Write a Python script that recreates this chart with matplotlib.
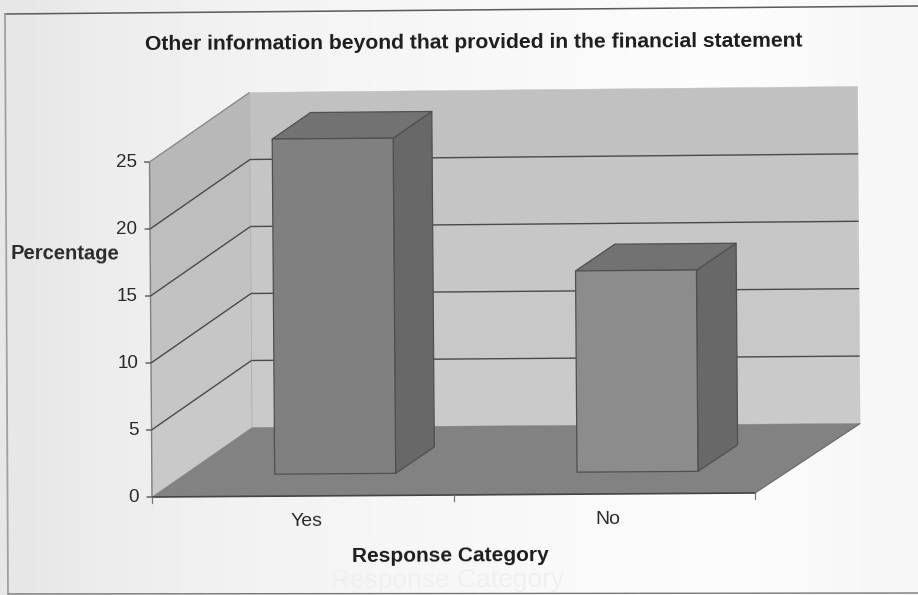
import numpy as np
import matplotlib
matplotlib.use('Agg')
import matplotlib.pyplot as plt

categories = ['Yes', 'No']
values = [25, 15]
y_ticks = [0, 5, 10, 15, 20, 25]

title = 'Other information beyond that provided in the financial statement'
x_title = 'Response Category'
y_title = 'Percentage'

plt.rcParams['font.family'] = ['Liberation Sans', 'DejaVu Sans']

W, H = 918, 595
fig = plt.figure(figsize=(W / 100, H / 100), dpi=100, facecolor='#e9e9e9')
ax = fig.add_axes([0, 0, 1, 1])

# масштаб: одна категория = 301.5 px, одна единица значения = 13.4 px
x_px, y_px = 301.5, 13.4
x_org, y_org = 152, 497
ax.set_xlim(-x_org / x_px, (W - x_org) / x_px)
ax.set_ylim(-(H - y_org) / y_px, y_org / y_px)
ax.axis('off')

# косая проекция глубины
depth_x = 100 / x_px
depth_y = 69.5 / y_px
n_cat = len(categories)
y_max = max(y_ticks)
tilt = 0.3  # наклон подписей, градусы


def project(x, v, d):
    # небольшой наклон всей диаграммы и расширение задней стенки
    px = x + d * depth_x - 0.00033 * v + d * x * 0.0085
    py = v + d * depth_y + 0.15 * x + d * x * v * 0.003
    return px, py


def face(points, color, edge='#505050', lw=0.9, z=2):
    pts = [project(*p) for p in points]
    ax.fill([p[0] for p in pts], [p[1] for p in pts], facecolor=color,
            edgecolor=edge, linewidth=lw, zorder=z, joinstyle='round')


def line(p1, p2, color='#4a4a4a', lw=1.0, z=1.5):
    a, b = project(*p1), project(*p2)
    ax.plot([a[0], b[0]], [a[1], b[1]], color=color, lw=lw, zorder=z,
            solid_capstyle='butt')


# фон панели
bg = np.array([[0.905, 0.925, 0.935, 0.945, 0.955, 0.96, 0.965, 0.97, 0.975, 0.98, 0.985, 0.985, 0.975, 0.965]])
ax.imshow(bg, extent=ax.get_xlim() + ax.get_ylim(), aspect='auto', cmap='gray',
          vmin=0, vmax=1, interpolation='bilinear', zorder=0)

# рамка вокруг диаграммы
fig.add_artist(plt.Line2D([5 / W, 1], [1 - 14 / H, 1 - 6 / H], color='#5a5a5a', lw=1.1))
fig.add_artist(plt.Line2D([5 / W, 8 / W], [1 - 14 / H, 1 - 593 / H], color='#a0a0a0', lw=1.3))
fig.add_artist(plt.Line2D([8 / W, 1], [1 - 594 / H, 1 - 593 / H], color='#777777', lw=1.0))

# стенки и пол
left_shades = ['#c9c9c9', '#c6c6c6', '#c2c2c2', '#bebebe', '#b8b8b8']
back_shades = ['#cacaca', '#c8c8c8', '#c7c7c7', '#c5c5c5', '#c1c1c1']
for i in range(len(y_ticks) - 1):
    lo, hi = y_ticks[i], y_ticks[i + 1]
    face([(0, lo, 0), (0, lo, 1), (0, hi, 1), (0, hi, 0)], left_shades[i],
         edge=left_shades[i], lw=0.3, z=1)
    face([(0, lo, 1), (n_cat, lo, 1), (n_cat, hi, 1), (0, hi, 1)], back_shades[i],
         edge=back_shades[i], lw=0.3, z=1)
face([(0, 0, 0), (n_cat, 0, 0), (n_cat, 0, 1), (0, 0, 1)], '#828282',
     edge='#828282', lw=0.3, z=1.2)

# контуры стенок
line((0, 0, 0), (0, y_max, 0), color='#808080')
line((0, y_max, 0), (0, y_max, 1), color='#8a8a8a')
line((0, 0, 1), (0, y_max, 1), color='#b4b4b4', lw=0.8)
line((0, 0, 0), (n_cat, 0, 0), color='#444444', lw=1.2, z=1.6)
line((n_cat, 0, 0), (n_cat, 0, 1), color='#6e6e6e', lw=0.9, z=1.6)

# линии сетки
for t in y_ticks[1:-1]:
    line((0, t, 0), (0, t, 1))
    line((0, t, 1), (n_cat, t, 1))

# деления и подписи оси значений
for t in y_ticks:
    line((-0.018, t, 0), (0, t, 0), color='#555555')
    x_t, y_t = project(-0.043, t, 0)
    ax.text(x_t, y_t, str(t), ha='right', va='center', fontsize=13.5,
            color='#2a2a2a', zorder=5)

# деления оси категорий
for i in range(n_cat + 1):
    a = project(i, 0, 0)
    ax.plot([a[0], a[0]], [a[1], a[1] - 6 / y_px], color='#777777', lw=0.9, zorder=1.6)

# столбцы
bar_w = 0.4
d_front, d_back = 0.32, 0.70
front_cols = ['#808080', '#8c8c8c']
for i, v in enumerate(values):
    l, r = i + 0.5 - bar_w / 2, i + 0.5 + bar_w / 2
    face([(r, 0, d_front), (r, 0, d_back), (r, v, d_back), (r, v, d_front)], '#686868', z=3)
    face([(l, v, d_front), (r, v, d_front), (r, v, d_back), (l, v, d_back)], '#727272', z=3)
    face([(l, 0, d_front), (r, 0, d_front), (r, v, d_front), (l, v, d_front)], front_cols[i], z=3.1)
    x_lab, y_lab = project(i + 0.5, 0, 0)
    ax.text(x_lab + 4 / x_px, y_lab - 25 / y_px, categories[i], ha='center', va='center',
            fontsize=14, color='#2a2a2a', rotation=tilt, zorder=5)

# заголовки
fig.text(474 / W, 1 - 43 / H, title, ha='center', va='center', fontsize=15.2,
         fontweight='bold', color='#1c1c1c', rotation=tilt)
fig.text(450 / W, 1 - 556 / H, x_title, ha='center', va='center', fontsize=15,
         fontweight='bold', color='#1c1c1c', rotation=tilt)
fig.text(65 / W, 1 - 254 / H, y_title, ha='center', va='center', fontsize=14.5,
         fontweight='bold', color='#2a2a2a', rotation=-tilt)

# слабо проступающая с обратной стороны листа подпись
fig.text(447 / W, 1 - 580 / H, x_title, ha='center', va='center', fontsize=19,
         color='#f0f0f0', rotation=tilt, zorder=0.5)

fig.savefig('out.png', dpi=100, facecolor=fig.get_facecolor())
